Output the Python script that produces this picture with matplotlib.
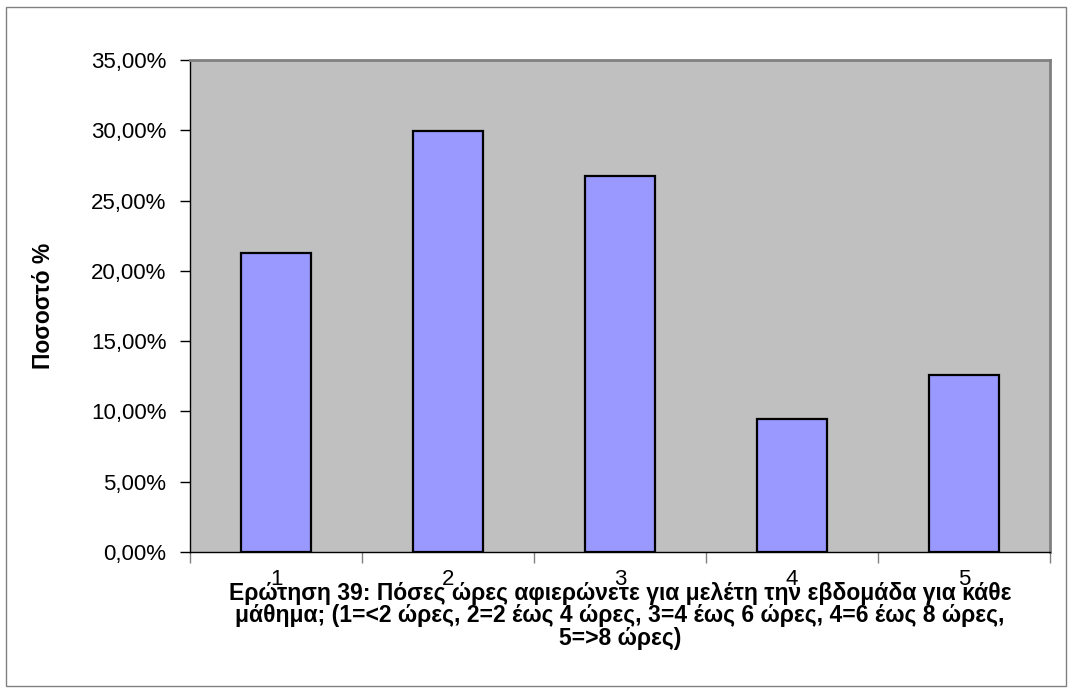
import numpy as np
import matplotlib.pyplot as plt
from matplotlib.patches import Rectangle
from matplotlib.ticker import FuncFormatter, FixedLocator

plt.rcParams['font.family'] = ['Liberation Sans', 'DejaVu Sans']

# Δεδομένα
kathgories = ['1', '2', '3', '4', '5']
pososta = [0.2127, 0.2994, 0.2674, 0.0944, 0.1259]

fig = plt.figure(figsize=(10.72, 6.93), dpi=100)
ax = fig.add_axes([190 / 1072, 141 / 693, 860 / 1072, 492 / 693])

# περίγραμμα σχήματος
fig.patches.append(Rectangle((6 / 1072, 7 / 693), 1060 / 1072, 679 / 693,
                             transform=fig.transFigure, fill=False,
                             edgecolor='#808080', linewidth=1.0))

x = np.arange(1, len(kathgories) + 1)
ax.set_facecolor('#C0C0C0')
ax.bar(x, pososta, width=0.41, color='#9999FF', edgecolor='black', linewidth=1.6, zorder=3)

ax.set_xlim(0.5, 5.5)
ax.set_ylim(0, 0.35)
ax.set_yticks(np.arange(0, 0.351, 0.05))
ax.yaxis.set_major_formatter(FuncFormatter(lambda v, p: f"{v * 100:.2f}%".replace('.', ',')))
ax.tick_params(axis='y', labelsize=16, length=7, width=1, pad=10)

ax.set_xticks(x)
ax.set_xticklabels(kathgories)
ax.xaxis.set_minor_locator(FixedLocator(np.arange(0.5, 5.6, 1)))
ax.tick_params(axis='x', which='major', length=0, labelsize=16, pad=12)
ax.tick_params(axis='x', which='minor', length=8, width=1, color='#808080')

for s in ['top', 'right']:
    ax.spines[s].set_color('#808080')
    ax.spines[s].set_linewidth(2)
for s in ['left', 'bottom']:
    ax.spines[s].set_color('black')
    ax.spines[s].set_linewidth(1)

ax.set_ylabel('Ποσοστό %', fontsize=16.5, fontweight='bold')
ax.yaxis.set_label_coords(-(190 - 55) / 860, 0.5)

fig.text(620 / 1072, 1 - 582 / 693,
         'Ερώτηση 39: Πόσες ώρες αφιερώνετε για μελέτη την εβδομάδα για κάθε\n'
         'μάθημα; (1=<2 ώρες, 2=2 έως 4 ώρες, 3=4 έως 6 ώρες, 4=6 έως 8 ώρες,\n'
         '5=>8 ώρες)',
         ha='center', va='top', fontsize=16.5, fontweight='bold', linespacing=0.97)

fig.savefig('out.png', dpi=100)
